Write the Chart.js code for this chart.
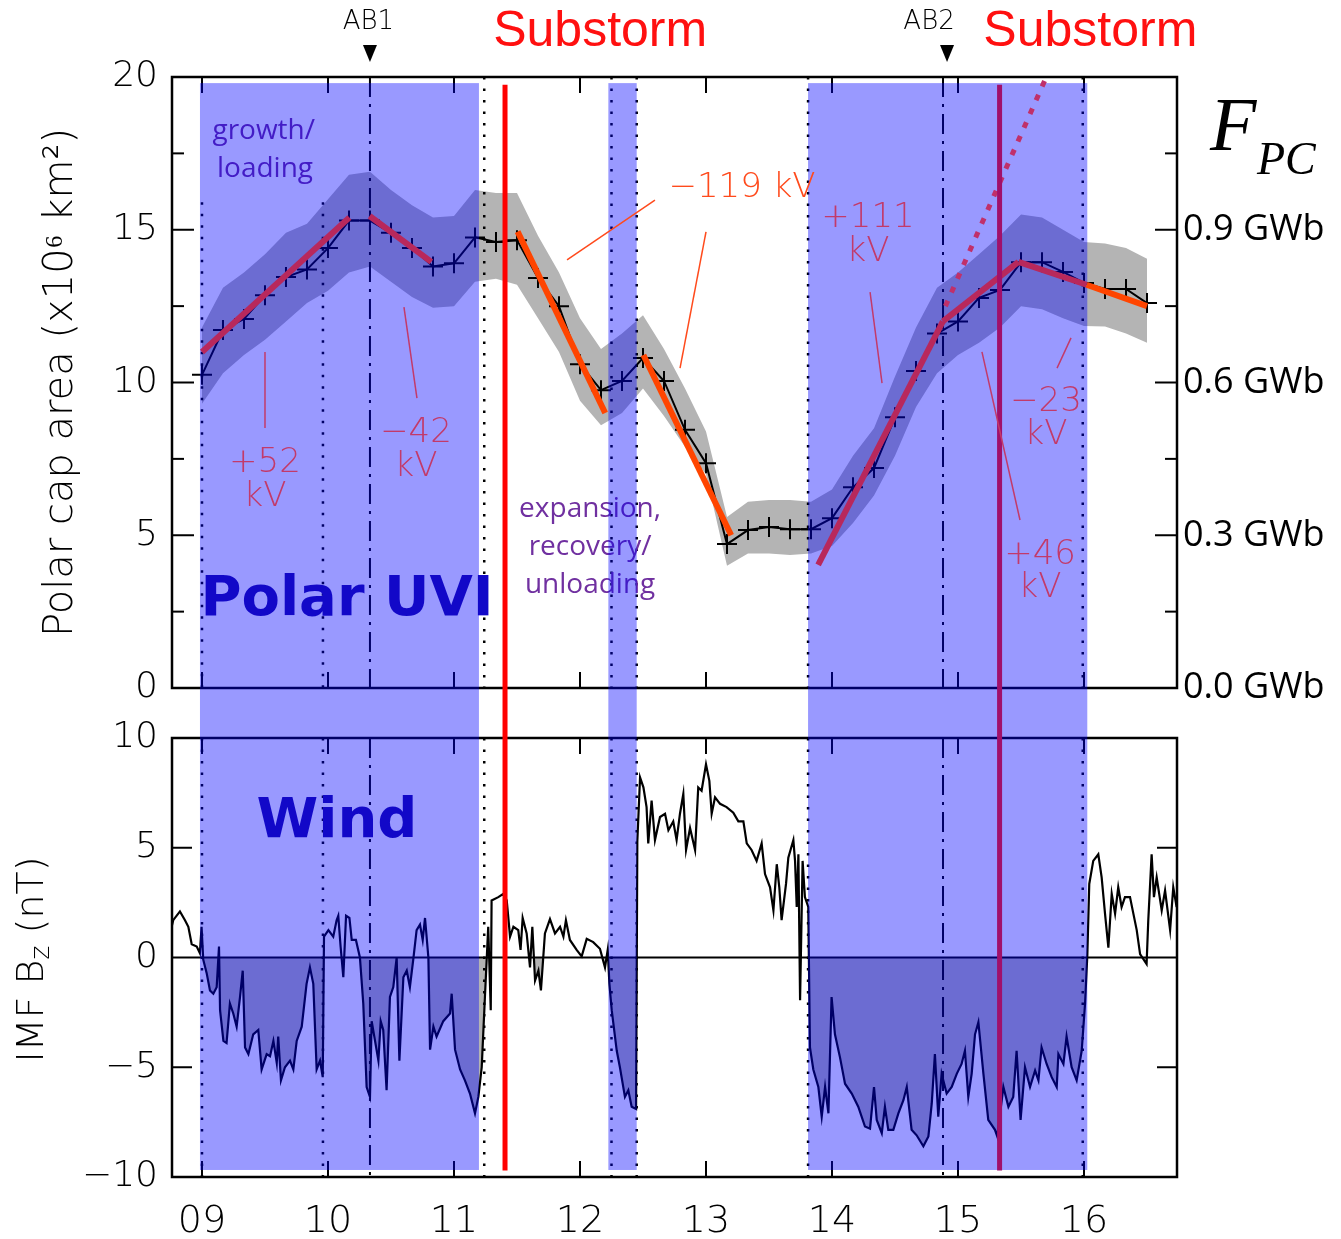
<!DOCTYPE html>
<html>
<head>
<meta charset="utf-8">
<script src="https://cdn.jsdelivr.net/npm/chart.js@4.4.1/dist/chart.umd.min.js"></script>
<style>
  html, body { margin: 0; padding: 0; background: #fff; }
  #wrap { position: relative; width: 1341px; height: 1239px; }
  canvas { position: absolute; left: 0; }
  #top { top: 0; }
  #bot { top: 713px; }
</style>
</head>
<body>
<div id="wrap">
  <canvas id="top" width="1341" height="713"></canvas>
  <canvas id="bot" width="1341" height="526"></canvas>
</div>
<script>
// ---- data ----
// Polar UVI polar cap area (10^6 km^2), 10-min cadence, minutes after 09:00 UT
const pcMinutes = [0, 10, 20, 30, 40, 50, 60, 70, 80, 90,
  100, 110, 120, 130, 140, 150, 160, 170, 180, 190,
  200, 210, 220, 230, 240, 250, 260, 270, 280, 290,
  300, 310, 320, 330, 340, 350, 360, 370, 380, 390,
  400, 410, 420, 430, 440, 450];
const pcArea = [10.25, 11.72, 12.08, 12.86, 13.45, 13.7, 14.4, 15.3, 15.3, 14.9,
  14.4, 13.8, 13.9, 14.75, 14.6, 14.66, 13.42, 12.5, 10.6, 9.75,
  10.05, 10.8, 10.05, 8.45, 7.36, 4.71, 5.17, 5.27, 5.2, 5.2,
  5.56, 6.57, 7.2, 8.86, 10.38, 11.6, 12.0, 12.77, 13.03, 13.94,
  13.94, 13.62, 13.26, 13.06, 13.06, 12.6];
const pcUpper = [11.8, 13.1, 13.6, 14.2, 14.9, 15.2, 16.0, 16.8, 16.9, 16.3,
  15.8, 15.4, 15.45, 16.3, 16.2, 16.2, 14.8, 13.6, 12.1, 11.1,
  11.6, 12.2, 11.1, 9.8, 8.4, 5.6, 6.1, 6.15, 6.15, 6.1,
  6.5, 7.6, 8.5, 10.2, 11.8, 13.1, 13.6, 14.2, 14.8, 15.5,
  15.4, 15.0, 14.6, 14.55, 14.4, 14.05];
const pcLower = [9.3, 10.3, 10.9, 11.4, 12.0, 12.6, 13.0, 13.6, 13.8, 13.3,
  12.8, 12.45, 12.5, 13.3, 13.4, 13.2, 12.1, 11.0, 9.4, 8.6,
  9.0, 9.8, 8.9, 7.9, 7.0, 4.0, 4.4, 4.4, 4.35, 4.4,
  4.65, 5.4, 6.3, 7.6, 9.2, 10.3, 10.9, 11.3, 11.8, 12.5,
  12.4, 12.1, 11.85, 11.83, 11.6, 11.3];

// linear fits [t0, a0, t1, a1] (hours UT, area)
const fitsLoading = [[9.0, 11.0, 10.17, 15.4], [10.33, 15.45, 10.82, 13.95],
  [13.89, 4.03, 14.88, 12.0], [14.88, 12.0, 15.48, 13.95], [15.48, 13.95, 16.02, 13.2]];
const fitsUnloading = [[11.505, 14.94, 12.2, 9.0], [12.503, 10.9, 13.2, 5.0], [16.02, 13.2, 16.5, 12.5]];
const fitProjection = [14.9, 12.5, 15.69, 19.9];

// Wind IMF Bz (nT), minutes after 09:00 UT
const bzMinutes = [
  -15.2, -13.7, -10.5, -8.1, -6.5, -4.9, -2.5, -1.0, -0.2, 0.6,
  2.2, 3.8, 5.4, 7.0, 8.1, 8.6, 10.2, 11.7, 13.3, 14.9,
  16.5, 18.1, 19.4, 20.5, 22.1, 24.4, 26.8, 28.4, 30.8, 32.4,
  34.0, 35.6, 36.3, 37.6, 39.5, 41.9, 43.5, 45.1, 47.5, 49.8,
  51.4, 53.0, 54.6, 56.2, 57.5, 58.1, 60.2, 62.5, 64.1, 64.9,
  66.0, 67.3, 68.6, 70.2, 71.3, 73.3, 75.2, 76.8, 78.4, 80.0,
  80.8, 82.4, 84.0, 85.1, 86.3, 87.9, 89.5, 91.1, 92.7, 94.0,
  95.9, 97.5, 99.0, 100.6, 102.2, 103.8, 105.1, 106.2, 107.8, 108.6,
  110.2, 111.7, 114.9, 118.1, 118.9, 120.5, 122.9, 125.2, 127.6, 130.0,
  131.6, 133.2, 134.8, 136.3, 137.5, 137.9, 141.1, 143.5, 145.1, 146.7,
  148.3, 150.6, 151.7, 152.7, 154.6, 156.2, 157.3, 158.6, 160.2, 161.4,
  163.3, 165.7, 168.1, 170.5, 172.1, 173.3, 175.2, 178.4, 180.8, 183.2,
  186.3, 189.5, 191.9, 193.2, 194.0, 195.1, 197.5, 199.0, 201.4, 203.0,
  204.6, 206.7, 207.3, 208.6, 210.2, 211.7, 212.5, 214.1, 215.7, 218.1,
  220.5, 222.1, 224.4, 226.0, 227.6, 229.2, 230.5, 232.4, 234.8, 236.3,
  237.9, 240.0, 241.6, 242.7, 244.3, 246.7, 249.8, 253.0, 255.4, 257.8,
  259.4, 261.7, 264.1, 266.5, 268.1, 270.5, 272.1, 273.7, 274.9, 276.0,
  278.1, 279.2, 281.6, 282.4, 283.2, 284.0, 284.8, 286.0, 287.1, 288.7,
  289.5, 291.1, 293.5, 295.1, 296.7, 298.3, 299.8, 301.4, 303.8, 306.2,
  309.4, 312.5, 315.7, 318.1, 320.0, 321.3, 323.7, 325.2, 326.8, 329.2,
  331.6, 334.0, 335.6, 337.9, 340.3, 343.5, 345.9, 347.5, 349.0, 350.6,
  352.2, 354.6, 357.0, 359.4, 361.7, 363.3, 364.9, 366.5, 368.1, 369.7,
  372.1, 374.4, 377.6, 378.7, 381.6, 384.0, 386.3, 387.9, 389.8, 391.9,
  394.3, 396.7, 398.3, 399.8, 402.2, 404.6, 407.0, 407.8, 410.2, 411.7,
  414.1, 416.5, 418.9, 420.5, 421.6, 422.5, 424.4, 426.8, 428.4, 430.0,
  431.6, 433.2, 434.8, 436.3, 437.9, 439.5, 441.9, 443.5, 445.1, 446.7,
  449.8, 450.6, 452.2, 453.3, 454.6, 457.0, 458.6, 461.0, 462.5, 464.1];
const bzValues = [
  1.1, 1.7, 2.1, 1.7, 1.4, 0.6, 0.5, 0.2, 1.4, -0.1,
  -0.7, -1.5, -1.65, -1.35, 0.5, -2.4, -3.8, -3.9, -2.1, -2.55,
  -3.15, -1.8, -0.6, -4.1, -4.4, -3.5, -3.3, -5.1, -4.4, -4.5,
  -3.8, -4.8, -3.6, -5.6, -5.0, -4.7, -5.1, -3.8, -3.15, -1.2,
  -0.45, -1.2, -5.1, -4.7, -5.45, 0.95, 1.25, 0.95, 1.7, 1.9,
  0.5, -0.9, 1.9, 1.8, 0.8, 0.8, 0.0, -2.1, -5.9, -6.35,
  -2.9, -3.8, -4.7, -2.9, -3.3, -6.05, -1.8, -1.35, 0.0, -4.7,
  -0.9, -0.6, -1.35, -0.1, 1.25, 1.5, 0.8, 1.8, 0.0, -4.2,
  -3.15, -3.6, -2.9, -2.55, -1.65, -4.2, -5.1, -5.6, -6.2, -7.1,
  -6.35, -5.0, -1.65, 1.4, -2.4, 2.6, 2.75, 2.9, 2.6, 0.95,
  1.4, 1.25, 0.35, 1.8, 1.1, -0.45, 1.4, -1.05, -0.6, -1.5,
  1.1, 1.75, 1.1, 1.4, 0.95, 1.7, 0.8, 0.35, 0.05, 0.85,
  0.7, 0.4, -0.45, 0.35, -1.2, -2.4, -4.25, -5.0, -6.35, -6.05,
  -6.8, -6.9, 5.3, 8.2, 7.75, 6.85, 5.2, 7.15, 5.35, 6.4,
  6.55, 5.8, 6.2, 5.35, 6.55, 7.45, 4.9, 5.9, 4.9, 7.75,
  7.6, 8.8, 8.05, 6.55, 7.3, 7.0, 6.85, 6.6, 6.2, 6.2,
  5.2, 4.9, 4.4, 5.2, 3.8, 3.2, 2.15, 4.25, 3.2, 1.7,
  3.35, 4.55, 5.35, 4.4, 2.3, 4.7, -1.95, 4.4, 2.75, 2.3,
  -4.1, -5.1, -5.9, -7.25, -5.9, -7.1, -1.8, -3.5, -4.55, -5.75,
  -6.2, -6.8, -7.7, -7.8, -5.9, -7.4, -8.0, -6.8, -7.85, -7.85,
  -7.1, -6.5, -5.9, -7.85, -8.1, -8.6, -8.15, -6.65, -4.4, -7.25,
  -5.3, -6.2, -5.9, -5.3, -4.85, -4.25, -6.35, -5.3, -3.5, -2.95,
  -5.3, -7.4, -7.85, -8.15, -5.9, -6.8, -6.35, -4.25, -7.4, -5.0,
  -5.9, -5.15, -5.6, -4.1, -4.85, -5.45, -5.9, -4.4, -4.85, -3.6,
  -5.0, -5.6, -4.25, -2.1, 0.15, 3.35, 4.4, 4.7, 3.65, 2.0,
  0.45, 2.9, 2.0, 3.2, 2.3, 2.75, 2.75, 2.0, 1.25, 0.15,
  -0.3, 1.7, 4.7, 2.75, 3.65, 2.15, 3.05, 1.25, 3.2, 2.3];

// intervals and event times (hours UT)
const blueSpans = [[8.984, 11.198], [12.225, 12.45], [13.81, 16.026]];
const dottedTimes = [9.0, 9.96, 11.24, 12.25, 12.45, 13.81, 15.99];
const dottedTopArea = [15.9, 15.9, 20, 20, 20, 20, 20];
const dashDotTimes = [10.333, 14.881];
const onsetTimes = [11.405, 15.33];
const hourTicks = [9, 10, 11, 12, 13, 14, 15, 16];

const xMin = 8.762, xMax = 16.738;
const hr = m => 9 + m / 60;

// ---- helpers ----
const CRIMSON = '#c23a6a', ORANGE = '#ff4a1c', PURPLE = '#7030a0', BLUE_TXT = '#1208c8';
const SHADE = 'rgba(0,0,255,0.4)';
const THIN = '"DejaVu Sans"';

function line(ctx, x0, y0, x1, y1, w, color, dash) {
  ctx.save();
  ctx.beginPath();
  ctx.setLineDash(dash || []);
  ctx.lineWidth = w;
  ctx.strokeStyle = color;
  ctx.moveTo(x0, y0);
  ctx.lineTo(x1, y1);
  ctx.stroke();
  ctx.restore();
}
function text(ctx, s, x, y, font, color, align) {
  ctx.save();
  ctx.font = font;
  ctx.fillStyle = color;
  ctx.textAlign = align || 'center';
  ctx.textBaseline = 'middle';
  ctx.fillText(s, x, y);
  ctx.restore();
}
function frame(ctx, a, x, y, yTicks) {
  ctx.save();
  ctx.lineWidth = 2.5;
  ctx.strokeStyle = '#000';
  ctx.strokeRect(a.left, a.top, a.right - a.left, a.bottom - a.top);
  ctx.restore();
  hourTicks.forEach(h => {
    const px = x.getPixelForValue(h);
    line(ctx, px, a.top, px, a.top + 16, 2, '#000');
    line(ctx, px, a.bottom, px, a.bottom - 16, 2, '#000');
  });
  yTicks.forEach(([v, len]) => {
    const py = y.getPixelForValue(v);
    line(ctx, a.left, py, a.left + len, py, 2, '#000');
    line(ctx, a.right, py, a.right - len, py, 2, '#000');
  });
}
function seg(f) {
  return [{ x: f[0], y: f[1] }, { x: f[2], y: f[3] }];
}
// fixed axis size, and no extra room reserved for the end labels
function fixWidth(w) {
  return s => { s.width = w; s.paddingTop = 0; s.paddingBottom = 0; };
}

Chart.defaults.color = '#000';
Chart.defaults.animation = false;

// ---- top panel ----
const topDecor = {
  id: 'topDecor',
  afterDatasetDraw(chart, args) {
    if (args.index !== 2) return;
    const { ctx, chartArea: a, scales: { x, y } } = chart;
    const ticks = [];
    [2.5, 5, 7.5, 10, 12.5, 15, 17.5].forEach(v => ticks.push([v, v % 5 === 0 ? 22 : 12]));
    frame(ctx, a, x, y, ticks);
    dottedTimes.forEach((t, i) => {
      const px = x.getPixelForValue(t);
      line(ctx, px, y.getPixelForValue(dottedTopArea[i]), px, a.bottom, 2.5, '#000', [2.5, 9]);
    });
    dashDotTimes.forEach(t => {
      const px = x.getPixelForValue(t);
      line(ctx, px, a.top, px, a.bottom, 2, '#000', [20, 7, 3, 7]);
    });
    const f = '28px "Open Sans"';
    text(ctx, 'growth/', x.getPixelForValue(9.49), y.getPixelForValue(18.23), f, PURPLE);
    text(ctx, 'loading', x.getPixelForValue(9.5), y.getPixelForValue(16.99), f, PURPLE);
    text(ctx, 'expansion,', x.getPixelForValue(12.08), y.getPixelForValue(5.86), f, PURPLE);
    text(ctx, 'recovery/', x.getPixelForValue(12.08), y.getPixelForValue(4.62), f, PURPLE);
    text(ctx, 'unloading', x.getPixelForValue(12.08), y.getPixelForValue(3.37), f, PURPLE);
    // shaded intervals, continuing into the gap below the panel
    ctx.save();
    ctx.fillStyle = SHADE;
    const y0 = y.getPixelForValue(19.8);
    blueSpans.forEach(([t0, t1]) => {
      const x0 = x.getPixelForValue(t0), x1 = x.getPixelForValue(t1);
      ctx.fillRect(x0, y0, x1 - x0, chart.height - y0);
    });
    ctx.restore();
  },
  afterDatasetsDraw(chart) {
    const { ctx, chartArea: a, scales: { x, y } } = chart;
    const X = t => x.getPixelForValue(t), Y = v => y.getPixelForValue(v);
    line(ctx, X(onsetTimes[0]), Y(19.75), X(onsetTimes[0]), chart.height, 5, '#ff0000');
    line(ctx, X(onsetTimes[1]), Y(19.75), X(onsetTimes[1]), chart.height, 5, '#a0106a');

    // rate labels and pointers
    const kf = '300 34px ' + THIN;
    line(ctx, X(9.5), Y(11.0), X(9.5), Y(8.51), 1.5, CRIMSON);
    text(ctx, '+52', X(9.5), Y(7.36), kf, CRIMSON);
    text(ctx, 'kV', X(9.5), Y(6.25), kf, CRIMSON);
    line(ctx, X(10.603), Y(12.47), X(10.706), Y(9.49), 1.5, CRIMSON);
    text(ctx, '\u221242', X(10.698), Y(8.35), kf, CRIMSON);
    text(ctx, 'kV', X(10.698), Y(7.23), kf, CRIMSON);
    line(ctx, X(12.595), Y(15.97), X(11.897), Y(14.01), 1.5, ORANGE);
    line(ctx, X(13.0), Y(14.93), X(12.794), Y(10.47), 1.5, ORANGE);
    text(ctx, '\u2212119 kV', X(13.286), Y(16.37), kf, ORANGE);
    line(ctx, X(14.302), Y(12.96), X(14.397), Y(9.98), 1.5, CRIMSON);
    text(ctx, '+111', X(14.286), Y(15.38), kf, CRIMSON);
    text(ctx, 'kV', X(14.286), Y(14.27), kf, CRIMSON);
    line(ctx, X(15.897), Y(11.46), X(15.786), Y(10.47), 1.5, CRIMSON);
    text(ctx, '\u221223', X(15.698), Y(9.36), kf, CRIMSON);
    text(ctx, 'kV', X(15.698), Y(8.28), kf, CRIMSON);
    line(ctx, X(15.19), Y(11.0), X(15.492), Y(5.5), 1.5, CRIMSON);
    text(ctx, '+46', X(15.651), Y(4.35), kf, CRIMSON);
    text(ctx, 'kV', X(15.651), Y(3.27), kf, CRIMSON);

    text(ctx, 'Polar UVI', X(10.151), Y(2.88), 'bold 56px "DejaVu Sans"', BLUE_TXT);

    // header marks
    const af = '300 26px ' + THIN;
    text(ctx, 'AB1', X(10.32), 22, af, '#000');
    text(ctx, 'AB2', X(14.77), 22, af, '#000');
    [10.333, 14.913].forEach(t => {
      ctx.beginPath();
      ctx.moveTo(X(t) - 7, 45); ctx.lineTo(X(t) + 7, 45); ctx.lineTo(X(t), 62); ctx.closePath();
      ctx.fillStyle = '#000'; ctx.fill();
    });
    text(ctx, 'Substorm', X(12.16), 32, '50px "Liberation Sans"', '#ff1010');
    text(ctx, 'Substorm', X(16.05), 32, '50px "Liberation Sans"', '#ff1010');

    // F_PC
    ctx.save();
    ctx.fillStyle = '#000';
    ctx.textBaseline = 'alphabetic';
    ctx.textAlign = 'left';
    ctx.font = 'italic 76px "Liberation Serif"';
    ctx.fillText('F', a.right + 33, 150);
    ctx.font = 'italic 46px "Liberation Serif"';
    ctx.fillText('PC', a.right + 80, 174);
    ctx.restore();
  }
};

const fitSet = (f, color, extra) => Object.assign({
  data: seg(f), borderColor: color, borderWidth: 6, pointRadius: 0, fill: false, order: 1
}, extra || {});

new Chart(document.getElementById('top'), {
  type: 'line',
  data: {
    datasets: [
      { data: pcMinutes.map((m, i) => ({ x: hr(m), y: pcUpper[i] })), borderWidth: 0, pointRadius: 0,
        backgroundColor: '#b4b4b4', fill: '+1', order: 3 },
      { data: pcMinutes.map((m, i) => ({ x: hr(m), y: pcLower[i] })), borderWidth: 0, pointRadius: 0,
        fill: false, order: 3 },
      { data: pcMinutes.map((m, i) => ({ x: hr(m), y: pcArea[i] })), borderColor: '#000', borderWidth: 2,
        pointStyle: 'cross', pointRadius: 10, pointBorderWidth: 2, pointBorderColor: '#000', fill: false, order: 2 },
      ...fitsLoading.map(f => fitSet(f, '#b8285c')),
      ...fitsUnloading.map(f => fitSet(f, '#ff4500')),
      fitSet(fitProjection, '#c0306a', { borderWidth: 5, borderDash: [6, 9] })
    ]
  },
  options: {
    responsive: false,
    layout: { padding: { top: 77, bottom: 25, left: 0, right: 0 } },
    plugins: { legend: { display: false }, tooltip: { enabled: false } },
    scales: {
      x: { type: 'linear', min: xMin, max: xMax, display: false },
      y: {
        position: 'left', min: 0, max: 20,
        afterFit: fixWidth(172),
        grid: { display: false, drawTicks: false }, border: { display: false },
        ticks: { stepSize: 5, padding: 14, font: { family: 'DejaVu Sans', size: 36, weight: 300 } },
        title: { display: true, text: 'Polar cap area (x10\u2076 km\u00b2)', padding: { top: 38, bottom: 0 },
          font: { family: 'DejaVu Sans', size: 40, weight: 300 } }
      },
      yR: {
        position: 'right', min: 0, max: 1.2,
        afterFit: fixWidth(164),
        grid: { display: false, drawTicks: false }, border: { display: false },
        ticks: { stepSize: 0.3, padding: 6, font: { family: 'Open Sans', size: 36 },
          callback: v => v > 1 ? '' : v.toFixed(1) + ' GWb' }
      }
    }
  },
  plugins: [topDecor]
});

// ---- bottom panel ----
const botDecor = {
  id: 'botDecor',
  afterDatasetDraw(chart, args) {
    if (args.index !== 0) return;
    const { ctx, chartArea: a, scales: { x, y } } = chart;
    frame(ctx, a, x, y, [[5, 20], [-5, 20]]);
    line(ctx, a.left, y.getPixelForValue(0), a.right, y.getPixelForValue(0), 2, '#000');
    dottedTimes.forEach(t => {
      const px = x.getPixelForValue(t);
      line(ctx, px, a.top, px, a.bottom, 2.5, '#000', [2.5, 9]);
    });
    dashDotTimes.forEach(t => {
      const px = x.getPixelForValue(t);
      line(ctx, px, a.top, px, a.bottom, 2, '#000', [20, 7, 3, 7]);
    });
    ctx.save();
    ctx.fillStyle = SHADE;
    const y1 = y.getPixelForValue(-9.68);
    blueSpans.forEach(([t0, t1]) => {
      const x0 = x.getPixelForValue(t0), x1 = x.getPixelForValue(t1);
      ctx.fillRect(x0, 0, x1 - x0, y1);
    });
    ctx.restore();
  },
  afterDatasetsDraw(chart) {
    const { ctx, scales: { x, y } } = chart;
    const yb = y.getPixelForValue(-9.7);
    line(ctx, x.getPixelForValue(onsetTimes[0]), 0, x.getPixelForValue(onsetTimes[0]), yb, 5, '#ff0000');
    line(ctx, x.getPixelForValue(onsetTimes[1]), 0, x.getPixelForValue(onsetTimes[1]), yb, 5, '#a0106a');
    text(ctx, 'Wind', x.getPixelForValue(10.071), y.getPixelForValue(6.14), 'bold 56px "DejaVu Sans"', BLUE_TXT);

    // y-axis title with subscript
    ctx.save();
    ctx.translate(33, y.getPixelForValue(0) + 2);
    ctx.rotate(-Math.PI / 2);
    ctx.fillStyle = '#000';
    ctx.textBaseline = 'middle';
    ctx.textAlign = 'left';
    const big = '300 38px ' + THIN, small = '300 27px ' + THIN;
    ctx.font = big; const w1 = ctx.measureText('IMF B').width, w3 = ctx.measureText(' (nT)').width;
    ctx.font = small; const w2 = ctx.measureText('z').width;
    let sx = -(w1 + w2 + w3) / 2;
    ctx.font = big; ctx.fillText('IMF B', sx, 0); sx += w1;
    ctx.font = small; ctx.fillText('z', sx, 9); sx += w2;
    ctx.font = big; ctx.fillText(' (nT)', sx, 0);
    ctx.restore();
  }
};

new Chart(document.getElementById('bot'), {
  type: 'line',
  data: {
    datasets: [{
      data: bzMinutes.map((m, i) => ({ x: hr(m), y: bzValues[i] })),
      borderColor: '#000', borderWidth: 2.2, pointRadius: 0,
      fill: { target: { value: 0 }, above: 'rgba(0,0,0,0)', below: '#b4b4b4' }
    }]
  },
  options: {
    responsive: false,
    layout: { padding: { top: 25, bottom: 0, left: 0, right: 164 } },
    plugins: { legend: { display: false }, tooltip: { enabled: false } },
    scales: {
      x: {
        type: 'linear', min: xMin, max: xMax,
        afterFit(s) { s.height = 62; s.paddingLeft = 0; s.paddingRight = 0; },
        grid: { display: false, drawTicks: false }, border: { display: false },
        ticks: { stepSize: 1, includeBounds: false, padding: 22, maxRotation: 0,
          font: { family: 'DejaVu Sans', size: 38, weight: 300 },
          callback: v => String(v).padStart(2, '0') }
      },
      y: {
        position: 'left', min: -10, max: 10,
        afterFit: fixWidth(172),
        grid: { display: false, drawTicks: false }, border: { display: false },
        ticks: { stepSize: 5, padding: 14, font: { family: 'DejaVu Sans', size: 36, weight: 300 },
          callback: v => (v < 0 ? '\u2212' : '') + Math.abs(v) }
      }
    }
  },
  plugins: [botDecor]
});
</script>
</body>
</html>
